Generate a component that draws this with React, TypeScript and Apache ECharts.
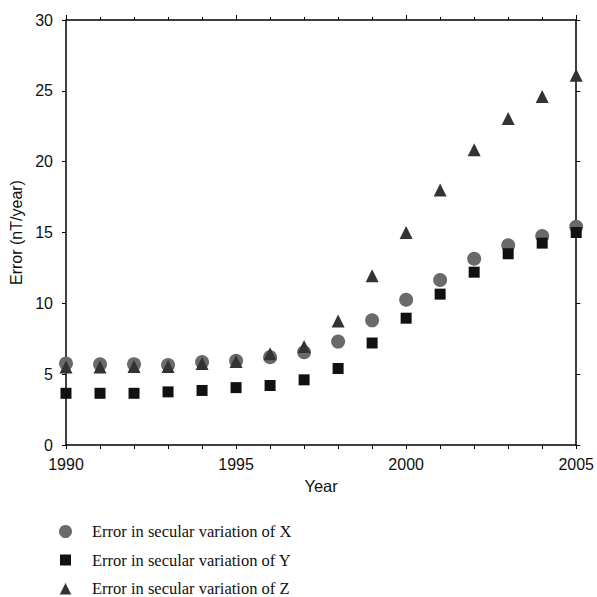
import React, { useEffect, useRef } from "react";
import * as echarts from "echarts";

const years = [1990, 1991, 1992, 1993, 1994, 1995, 1996, 1997, 1998, 1999, 2000, 2001, 2002, 2003, 2004, 2005];
const errX = [5.75, 5.7, 5.7, 5.65, 5.85, 5.95, 6.2, 6.55, 7.3, 8.8, 10.25, 11.65, 13.15, 14.1, 14.75, 15.4];
const errY = [3.65, 3.65, 3.65, 3.75, 3.85, 4.05, 4.2, 4.6, 5.4, 7.2, 8.95, 10.65, 12.2, 13.5, 14.25, 15.0];
const errZ = [5.5, 5.5, 5.55, 5.55, 5.75, 5.9, 6.45, 6.95, 8.75, 11.95, 15.0, 18.0, 20.85, 23.05, 24.6, 26.1];
const seriesNames = [
  "Error in secular variation of X",
  "Error in secular variation of Y",
  "Error in secular variation of Z",
];

const pair = (vals: number[]) => years.map((y, i) => [y, vals[i]]);

export default function App() {
  const ref = useRef<HTMLDivElement>(null);
  useEffect(() => {
    if (!ref.current) return;
    const chart = echarts.init(ref.current, undefined, { renderer: "svg" });
    const axisLine = { show: true, onZero: false, lineStyle: { color: "#000", width: 1.5 } };
    const font = "Liberation Sans, Arial, sans-serif";
    chart.setOption({
      animation: false,
      backgroundColor: "#fff",
      grid: { left: 66, right: 20, top: 20, bottom: 152 },
      legend: {
        orient: "vertical",
        left: 58,
        top: 523,
        height: 74,
        padding: 0,
        itemGap: 11.5,
        itemWidth: 13,
        itemHeight: 13,
        textStyle: { fontFamily: "Liberation Serif, Times New Roman, serif", fontSize: 16.5, color: "#111", padding: [0, 0, 0, 15] },
        data: [
          { name: seriesNames[0], icon: "circle" },
          { name: seriesNames[1], icon: "rect", itemStyle: { borderColor: "#fff", borderWidth: 2 } },
          { name: seriesNames[2], icon: "triangle", itemStyle: { borderColor: "#fff", borderWidth: 1 } },
        ],
      },
      xAxis: [
        {
          type: "value",
          position: "bottom",
          min: 1990,
          max: 2005,
          interval: 5,
          name: "Year",
          nameLocation: "middle",
          nameGap: 32,
          nameTextStyle: { fontFamily: font, fontSize: 16.5, color: "#111" },
          axisLine,
          axisTick: { show: true, inside: false, length: 4, lineStyle: { color: "#000" } },
          minorTick: { show: true, splitNumber: 5, length: 4, lineStyle: { color: "#000" } },
          splitLine: { show: false },
          axisLabel: { fontFamily: font, fontSize: 16, color: "#111", margin: 11, formatter: (v: number) => String(v) },
        },
        {
          type: "value",
          position: "top",
          min: 1990,
          max: 2005,
          interval: 5,
          axisLine,
          axisTick: { show: true, inside: false, length: 5, lineStyle: { color: "#000" } },
          minorTick: { show: true, splitNumber: 5, length: 3, lineStyle: { color: "#000" } },
          splitLine: { show: false },
          axisLabel: { show: false },
        },
      ],
      yAxis: [
        {
          type: "value",
          position: "left",
          min: 0,
          max: 30,
          interval: 5,
          name: "Error (nT/year)",
          nameLocation: "middle",
          nameGap: 32,
          nameTextStyle: { fontFamily: font, fontSize: 16, color: "#111" },
          axisLine,
          axisTick: { show: true, inside: false, length: 4, lineStyle: { color: "#000" } },
          splitLine: { show: false },
          axisLabel: { fontFamily: font, fontSize: 16, color: "#111", margin: 13 },
        },
        {
          type: "value",
          position: "right",
          min: 0,
          max: 30,
          interval: 5,
          axisLine,
          axisTick: { show: true, inside: false, length: 4, lineStyle: { color: "#000" } },
          splitLine: { show: false },
          axisLabel: { show: false },
        },
      ],
      series: [
        {
          name: seriesNames[0],
          type: "scatter",
          symbol: "circle",
          symbolSize: 14,
          itemStyle: { color: "#6a6a6a", opacity: 1 },
          data: pair(errX),
          z: 2,
        },
        {
          name: seriesNames[1],
          type: "scatter",
          symbol: "rect",
          symbolSize: 11,
          itemStyle: { color: "#111", opacity: 1 },
          data: pair(errY),
          z: 3,
        },
        {
          name: seriesNames[2],
          type: "scatter",
          symbol: "triangle",
          symbolSize: 13,
          itemStyle: { color: "#333", opacity: 1 },
          data: pair(errZ),
          z: 4,
        },
      ],
    });
    return () => chart.dispose();
  }, []);
  return <div ref={ref} style={{ width: 597, height: 597, position: "absolute", left: 0, top: 0 }} />;
}
